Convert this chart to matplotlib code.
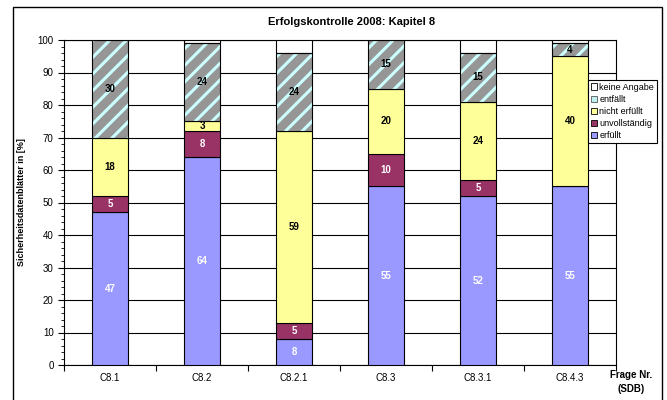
import matplotlib
matplotlib.use("Agg")
import matplotlib.pyplot as plt
from matplotlib.patches import Patch, Rectangle
import numpy as np

plt.rcParams['font.family'] = ['Liberation Sans', 'DejaVu Sans']
plt.rcParams['hatch.linewidth'] = 2.2

categories = ["C8.1", "C8.2", "C8.2.1", "C8.3", "C8.3.1", "C8.4.3"]
erfuellt = [47, 64, 8, 55, 52, 55]
unvollstaendig = [5, 8, 5, 10, 5, 0]
nicht_erfuellt = [18, 3, 59, 20, 24, 40]
entfaellt = [30, 24, 24, 15, 15, 4]
keine_angabe = [0, 1, 4, 0, 4, 1]

series = [
    ("erfüllt", erfuellt, "#9999FF", "white"),
    ("unvollständig", unvollstaendig, "#993366", "white"),
    ("nicht erfüllt", nicht_erfuellt, "#FFFF99", "black"),
    ("entfällt", entfaellt, "#969696", "black"),
    ("keine Angabe", keine_angabe, "white", None),
]

fig = plt.figure(figsize=(6.67, 4.0), dpi=100)
ax = fig.add_axes([0.096, 0.0875, 0.8275, 0.8125])

x = np.arange(len(categories))
width = 0.4
bottom = np.zeros(len(categories))
for name, vals, color, txt in series:
    vals = np.array(vals, dtype=float)
    if name == "entfällt":
        ax.bar(x, vals, width, bottom=bottom, color=color, hatch="//",
               edgecolor="#CCFFFF", linewidth=0, zorder=3)
        ax.bar(x, vals, width, bottom=bottom, facecolor="none",
               edgecolor="black", linewidth=0.8, zorder=4)
    else:
        ax.bar(x, vals, width, bottom=bottom, color=color,
               edgecolor="black", linewidth=0.8, zorder=3)
    if txt is not None:
        for xi, b, v in zip(x, bottom, vals):
            if v > 0:
                ax.text(xi, b + v / 2, f"{v:g}", ha="center", va="center",
                        fontsize=7, fontweight="bold", color=txt, zorder=5)
    bottom += vals

ax.set_xlim(-0.5, len(categories) - 0.5)
ax.set_ylim(0, 100)
ax.set_xticks(np.arange(len(categories) + 1) - 0.5)
ax.set_xticklabels([])
ax.set_xticks(x, minor=True)
ax.set_xticklabels(categories, minor=True, fontsize=7)
ax.tick_params(axis="x", which="minor", length=0, pad=6)
ax.tick_params(axis="x", which="major", length=4, direction="out")
ax.set_yticks(np.arange(0, 101, 10))
ax.set_yticks(np.arange(0, 101, 2), minor=True)
ax.tick_params(axis="y", which="major", labelsize=7, length=4, direction="out")
ax.tick_params(axis="y", which="minor", length=2, direction="out")
ax.yaxis.grid(True, color="black", linewidth=0.8, zorder=0)
ax.set_axisbelow(True)
for s in ax.spines.values():
    s.set_color("black")
    s.set_linewidth(0.8)

ax.set_ylabel("Sicherheitsdatenblätter in [%]", fontsize=6.5, fontweight="bold",
              labelpad=8)
fig.text(0.527, 0.945, "Erfolgskontrolle 2008: Kapitel 8",
         ha="center", va="center", fontsize=8, fontweight="bold")
fig.text(0.946, 0.045, "Frage Nr.\n(SDB)", ha="center", va="center",
         fontsize=7, fontweight="bold", linespacing=1.5)

handles = [
    Patch(facecolor="white", edgecolor="black", linewidth=0.6),
    Patch(facecolor="#BFEFEF", edgecolor="#555555", linewidth=0.6),
    Patch(facecolor="#FFFF99", edgecolor="black", linewidth=0.6),
    Patch(facecolor="#993366", edgecolor="black", linewidth=0.6),
    Patch(facecolor="#9999FF", edgecolor="black", linewidth=0.6),
]
labels = ["keine Angabe", "entfällt", "nicht erfüllt", "unvollständig", "erfüllt"]
leg = fig.legend(handles, labels, loc="upper left", bbox_to_anchor=(0.882, 0.8),
                 fontsize=6.5, handlelength=0.7, handleheight=0.7,
                 handletextpad=0.2, labelspacing=0.35, borderpad=0.3,
                 borderaxespad=0, fancybox=False, framealpha=1,
                 edgecolor="black")
leg.get_frame().set_linewidth(0.8)
leg.set_zorder(10)

# outer chart frame (open at the bottom edge of the image)
fig.patches.append(Rectangle((13 / 667, -0.05), 649 / 667, 1.05 - 7 / 400,
                             transform=fig.transFigure, fill=False,
                             edgecolor="black", linewidth=1.0))

fig.savefig("out.png", dpi=100)
